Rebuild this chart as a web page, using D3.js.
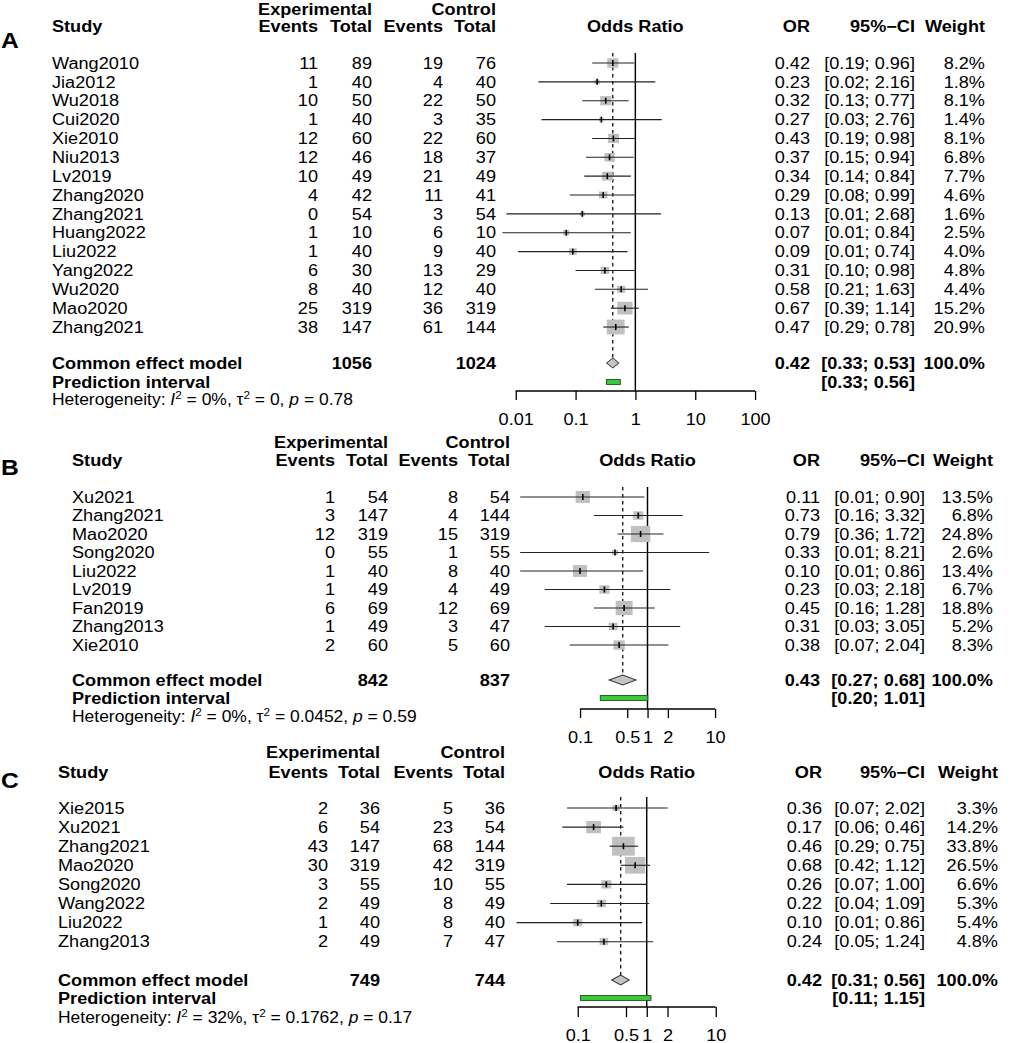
<!DOCTYPE html>
<html><head><meta charset="utf-8">
<script src="https://cdn.jsdelivr.net/npm/d3@7"></script>
<style>
html,body{margin:0;padding:0;background:#fff;}
svg text{font-family:"Liberation Sans",Arial,sans-serif;}
</style></head>
<body>
<svg id="chart" width="1014" height="1043"></svg>
<script>
// ---------------- DATA ----------------
// Panel A
const studiesA = ["Wang2010","Jia2012","Wu2018","Cui2020","Xie2010","Niu2013","Lv2019","Zhang2020","Zhang2021","Huang2022","Liu2022","Yang2022","Wu2020","Mao2020","Zhang2021"];
const expEventsA = [11,1,10,1,12,12,10,4,0,1,1,6,8,25,38];
const expTotalA  = [89,40,50,40,60,46,49,42,54,10,40,30,40,319,147];
const ctlEventsA = [19,4,22,3,22,18,21,11,3,6,9,13,12,36,61];
const ctlTotalA  = [76,40,50,35,60,37,49,41,54,10,40,29,40,319,144];
const orA = [0.42,0.23,0.32,0.27,0.43,0.37,0.34,0.29,0.13,0.07,0.09,0.31,0.58,0.67,0.47];
const loA = [0.19,0.024,0.13,0.027,0.19,0.15,0.14,0.08,0.007,0.006,0.011,0.10,0.21,0.39,0.29];
const hiA = [0.96,2.16,0.77,2.76,0.98,0.94,0.84,0.99,2.68,0.84,0.74,0.98,1.63,1.14,0.78];
const ciA = ["[0.19; 0.96]","[0.02; 2.16]","[0.13; 0.77]","[0.03; 2.76]","[0.19; 0.98]","[0.15; 0.94]","[0.14; 0.84]","[0.08; 0.99]","[0.01; 2.68]","[0.01; 0.84]","[0.01; 0.74]","[0.10; 0.98]","[0.21; 1.63]","[0.39; 1.14]","[0.29; 0.78]"];
const weightA = [8.2,1.8,8.1,1.4,8.1,6.8,7.7,4.6,1.6,2.5,4.0,4.8,4.4,15.2,20.9];
const pooledA = {exp:1056, ctl:1024, or:0.42, lo:0.33, hi:0.53, ci:"[0.33; 0.53]", w:"100.0%", piLo:0.33, piHi:0.56, pi:"[0.33; 0.56]", I2:"0%", tau2:"0", p:"0.78"};
const ticksA = [0.01,0.1,1,10,100];
const tickLabelsA = ["0.01","0.1","1","10","100"];

// Panel B
const studiesB = ["Xu2021","Zhang2021","Mao2020","Song2020","Liu2022","Lv2019","Fan2019","Zhang2013","Xie2010"];
const expEventsB = [1,3,12,0,1,1,6,1,2];
const expTotalB  = [54,147,319,55,40,49,69,49,60];
const ctlEventsB = [8,4,15,1,8,4,12,3,5];
const ctlTotalB  = [54,144,319,55,40,49,69,47,60];
const orB = [0.11,0.73,0.79,0.33,0.10,0.23,0.45,0.31,0.38];
const loB = [0.013,0.16,0.36,0.013,0.013,0.03,0.16,0.03,0.07];
const hiB = [0.90,3.32,1.72,8.21,0.86,2.18,1.28,3.05,2.04];
const ciB = ["[0.01; 0.90]","[0.16; 3.32]","[0.36; 1.72]","[0.01; 8.21]","[0.01; 0.86]","[0.03; 2.18]","[0.16; 1.28]","[0.03; 3.05]","[0.07; 2.04]"];
const weightB = [13.5,6.8,24.8,2.6,13.4,6.7,18.8,5.2,8.3];
const pooledB = {exp:842, ctl:837, or:0.43, lo:0.27, hi:0.68, ci:"[0.27; 0.68]", w:"100.0%", piLo:0.20, piHi:1.01, pi:"[0.20; 1.01]", I2:"0%", tau2:"0.0452", p:"0.59"};
const ticksB = [0.1,0.5,1,2,10];
const tickLabelsB = ["0.1","0.5","1","2","10"];

// Panel C
const studiesC = ["Xie2015","Xu2021","Zhang2021","Mao2020","Song2020","Wang2022","Liu2022","Zhang2013"];
const expEventsC = [2,6,43,30,3,2,1,2];
const expTotalC  = [36,54,147,319,55,49,40,49];
const ctlEventsC = [5,23,68,42,10,8,8,7];
const ctlTotalC  = [36,54,144,319,55,49,40,47];
const orC = [0.36,0.17,0.46,0.68,0.26,0.22,0.10,0.24];
const loC = [0.07,0.06,0.29,0.42,0.07,0.04,0.013,0.05];
const hiC = [2.02,0.46,0.75,1.12,1.00,1.09,0.86,1.24];
const ciC = ["[0.07; 2.02]","[0.06; 0.46]","[0.29; 0.75]","[0.42; 1.12]","[0.07; 1.00]","[0.04; 1.09]","[0.01; 0.86]","[0.05; 1.24]"];
const weightC = [3.3,14.2,33.8,26.5,6.6,5.3,5.4,4.8];
const pooledC = {exp:749, ctl:744, or:0.42, lo:0.31, hi:0.56, ci:"[0.31; 0.56]", w:"100.0%", piLo:0.11, piHi:1.15, pi:"[0.11; 1.15]", I2:"32%", tau2:"0.1762", p:"0.17"};
const ticksC = [0.1,0.5,1,2,10];
const tickLabelsC = ["0.1","0.5","1","2","10"];

// ---------------- LAYOUT ----------------
const SX = 1.12;              // horizontal stretch of the original image
const X = v => v / SX;        // pixel -> internal x
const FS = 16.2, FS_HET = 15.6, FS_LETTER = 22;

const layouts = [
  {letter:"A", letterY:40, h1:9, h2:26, row0:63, step:18.86, common:363, pred:382, het:400,
   axisY:391, tickLen:9, labY:419, dom:[0.01,100], rng:[515.7,755], lineTop:53,
   study:52, ev1:318, tot1:372, ev2:443, tot2:496, or:810, ci:915, wt:985},
  {letter:"B", letterY:467, h1:442, h2:460, row0:497, step:18.5, common:680, pred:698, het:717,
   axisY:709, tickLen:9, labY:737, dom:[0.1,10], rng:[580,715], lineTop:487,
   study:72, ev1:335, tot1:388, ev2:458, tot2:510, or:820, ci:925, wt:993},
  {letter:"C", letterY:780, h1:752, h2:772, row0:808, step:19.1, common:980, pred:998, het:1018,
   axisY:1007, tickLen:10, labY:1035, dom:[0.1,10], rng:[577.7,715.7], lineTop:797,
   study:58, ev1:328, tot1:380, ev2:453, tot2:505, or:822, ci:925, wt:998}
];

const panels = [
  {studies:studiesA, e1:expEventsA, t1:expTotalA, e2:ctlEventsA, t2:ctlTotalA, or:orA, lo:loA, hi:hiA, ci:ciA, w:weightA, pooled:pooledA, ticks:ticksA, tickLabels:tickLabelsA},
  {studies:studiesB, e1:expEventsB, t1:expTotalB, e2:ctlEventsB, t2:ctlTotalB, or:orB, lo:loB, hi:hiB, ci:ciB, w:weightB, pooled:pooledB, ticks:ticksB, tickLabels:tickLabelsB},
  {studies:studiesC, e1:expEventsC, t1:expTotalC, e2:ctlEventsC, t2:ctlTotalC, or:orC, lo:loC, hi:hiC, ci:ciC, w:weightC, pooled:pooledC, ticks:ticksC, tickLabels:tickLabelsC}
];

const svg = d3.select("#chart");
const root = svg.append("g").attr("transform", `scale(${SX},1)`);

function txt(g, x, y, s, anchor, bold, size){
  return g.append("text").attr("x", X(x)).attr("y", y)
    .attr("dominant-baseline","central")
    .attr("text-anchor", anchor || "start")
    .attr("font-size", size || FS)
    .attr("font-weight", bold ? "bold" : "normal")
    .attr("fill","#000").text(s);
}

panels.forEach((P, k) => {
  const L = layouts[k];
  const g = root.append("g");
  const x = d3.scaleLog().domain(L.dom).range([X(L.rng[0]), X(L.rng[1])]);
  const y = d3.scaleLinear().domain([0,1]).range([L.row0, L.row0 + L.step]);

  // panel letter
  txt(g, 1, L.letterY, L.letter, "start", true, FS_LETTER);

  // headers
  txt(g, L.tot1, L.h1, "Experimental", "end", true);
  txt(g, L.tot2, L.h1, "Control", "end", true);
  txt(g, L.study, L.h2, "Study", "start", true);
  txt(g, L.ev1, L.h2, "Events", "end", true);
  txt(g, L.tot1, L.h2, "Total", "end", true);
  txt(g, L.ev2, L.h2, "Events", "end", true);
  txt(g, L.tot2, L.h2, "Total", "end", true);
  g.append("text").attr("x", x(1)).attr("y", L.h2).attr("dominant-baseline","central")
    .attr("text-anchor","middle").attr("font-size",FS).attr("font-weight","bold").text("Odds Ratio");
  txt(g, L.or, L.h2, "OR", "end", true);
  txt(g, L.ci, L.h2, "95%\u2212CI", "end", true);
  txt(g, L.wt, L.h2, "Weight", "end", true);

  // study rows text
  P.studies.forEach((s, i) => {
    const yy = y(i);
    txt(g, L.study, yy, s);
    txt(g, L.ev1, yy, P.e1[i], "end");
    txt(g, L.tot1, yy, P.t1[i], "end");
    txt(g, L.ev2, yy, P.e2[i], "end");
    txt(g, L.tot2, yy, P.t2[i], "end");
    txt(g, L.or, yy, P.or[i].toFixed(2), "end");
    txt(g, L.ci, yy, P.ci[i], "end");
    txt(g, L.wt, yy, P.w[i].toFixed(1) + "%", "end");
  });

  const Q = P.pooled;
  // summary rows
  txt(g, L.study, L.common, "Common effect model", "start", true);
  txt(g, L.tot1, L.common, Q.exp, "end", true);
  txt(g, L.tot2, L.common, Q.ctl, "end", true);
  txt(g, L.or, L.common, Q.or.toFixed(2), "end", true);
  txt(g, L.ci, L.common, Q.ci, "end", true);
  txt(g, L.wt, L.common, Q.w, "end", true);
  txt(g, L.study, L.pred, "Prediction interval", "start", true);
  txt(g, L.ci, L.pred, Q.pi, "end", true);

  // heterogeneity
  const h = g.append("text").attr("x", X(L.study)).attr("y", L.het + 5.5)
    .attr("font-size", FS_HET).attr("fill","#000");
  h.append("tspan").text("Heterogeneity: ");
  h.append("tspan").attr("font-style","italic").text("I");
  h.append("tspan").attr("font-size", 10.5).attr("dy", -6).text("2");
  h.append("tspan").attr("dy", 6).text(" = " + Q.I2 + ", ");
  h.append("tspan").text("\u03c4");
  h.append("tspan").attr("font-size", 10.5).attr("dy", -6).text("2");
  h.append("tspan").attr("dy", 6).text(" = " + Q.tau2 + ", ");
  h.append("tspan").attr("font-style","italic").text("p");
  h.append("tspan").text(" = " + Q.p);

  // reference line at 1
  g.append("line").attr("x1", x(1)).attr("x2", x(1)).attr("y1", L.lineTop).attr("y2", L.axisY)
    .attr("stroke","#000").attr("stroke-width", 1.3);
  // dashed pooled line
  g.append("line").attr("x1", x(Q.or)).attr("x2", x(Q.or)).attr("y1", L.lineTop).attr("y2", L.common - 5)
    .attr("stroke","#000").attr("stroke-width", 1.1).attr("stroke-dasharray","3.5,3.5");

  // squares
  P.studies.forEach((s, i) => {
    const yy = y(i);
    const sq = Math.sqrt(P.w[i]);
    const wpx = 3.9 * sq / SX, hpx = 3.25 * sq;
    g.append("rect").attr("x", x(P.or[i]) - wpx/2).attr("y", yy - hpx/2)
      .attr("width", wpx).attr("height", hpx).attr("fill","#c0c0c0");
  });
  // CI lines + markers
  P.studies.forEach((s, i) => {
    const yy = y(i);
    g.append("line").attr("x1", x(P.lo[i])).attr("x2", x(P.hi[i])).attr("y1", yy).attr("y2", yy)
      .attr("stroke","#222").attr("stroke-width", 1.1);
    g.append("line").attr("x1", x(P.or[i])).attr("x2", x(P.or[i])).attr("y1", yy - 3).attr("y2", yy + 3)
      .attr("stroke","#000").attr("stroke-width", 1.6 / SX);
  });

  // diamond
  const cy = L.common;
  g.append("path").attr("d", `M${x(Q.lo)},${cy} L${x(Q.or)},${cy-5} L${x(Q.hi)},${cy} L${x(Q.or)},${cy+5} Z`)
    .attr("fill","#c4c4c4").attr("stroke","#333").attr("stroke-width", 0.9);
  // prediction interval
  g.append("rect").attr("x", x(Q.piLo)).attr("y", L.pred - 2.5).attr("width", x(Q.piHi) - x(Q.piLo)).attr("height", 5)
    .attr("fill","#3cc83c").attr("stroke","#1f5a1f").attr("stroke-width", 0.9);

  // axis
  const axis = d3.axisBottom(x).tickValues(P.ticks).tickFormat((d, i) => P.tickLabels[i])
    .tickSize(L.tickLen).tickSizeOuter(0);
  const ag = g.append("g").attr("transform", `translate(0,${L.axisY})`).call(axis);
  ag.select(".domain").remove();
  ag.append("line").attr("x1", x(P.ticks[0])).attr("x2", x(P.ticks[P.ticks.length-1]))
    .attr("stroke","#000").attr("stroke-width", 1.3);
  ag.selectAll(".tick line").attr("stroke","#000").attr("stroke-width", 1.3 / SX);
  ag.selectAll(".tick text").attr("font-size", FS).attr("fill","#000")
    .attr("font-family","'Liberation Sans',Arial,sans-serif")
    .attr("y", L.labY - L.axisY).attr("dy", null).attr("dominant-baseline","central");
});
</script>
</body></html>
